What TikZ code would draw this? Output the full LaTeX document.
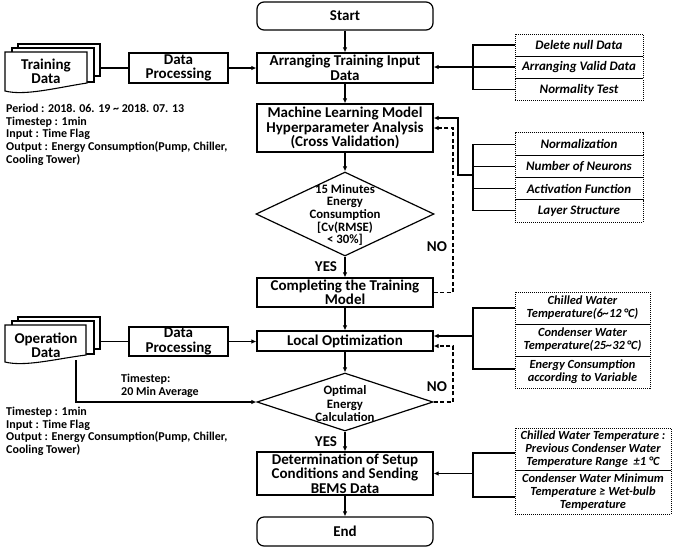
\documentclass[tikz,border=0pt]{standalone}
\usepackage{fontspec}
\setmainfont{Carlito}
\usetikzlibrary{shapes.geometric,arrows.meta}
\begin{document}
\begin{tikzpicture}[x=1pt,y=-1pt,
  every node/.style={inner sep=1pt},
  mainfont/.style={font=\fontsize{15}{14.5}\selectfont\bfseries},
  box/.style={draw,line width=1.2pt,minimum width=176pt,align=center,mainfont},
  term/.style={box,rounded corners=7pt},
  dia/.style={draw,line width=1.2pt,diamond,inner sep=0pt},
  opt/.style={draw,densely dotted,line width=1pt,align=center,
    font=\fontsize{13}{13.5}\selectfont\bfseries\itshape},
  optsm/.style={opt,font=\fontsize{12.4}{13}\selectfont\bfseries\itshape},
  note/.style={align=left,anchor=north west,font=\fontsize{12}{12.6}\selectfont\bfseries},
  conn/.style={line width=1.1pt},
  arr/.style={conn,-{Latex[length=5pt,width=4.5pt]}},
  darr/.style={conn,dash pattern=on 4pt off 2.5pt,-{Latex[length=5pt,width=4.5pt]}},
  page/.style={draw,line width=1.1pt,fill=white}]
\useasboundingbox (0,0) rectangle (680,547);

% main flow
\node[term,minimum height=28pt] (start) at (345,16) {Start};
\node[box,minimum height=30pt] (arrange) at (345,68) {Arranging Training Input\\Data};
\node[box,minimum height=48pt] (ml) at (345,128) {Machine Learning Model\\Hyperparameter Analysis\\(Cross Validation)};
\node[dia,minimum width=178pt,minimum height=84pt] (d1) at (345,214) {};
\node[align=center,font=\fontsize{12.8}{12.7}\selectfont\bfseries] (d1t) at (345,215) {15 Minutes\\Energy\\Consumption\\{}[Cv(RMSE)\\< 30\%]};
\node[box,minimum height=29pt] (comp) at (345,292.5) {Completing the Training\\Model};
\node[box,minimum height=20pt] (lo) at (345,341) {Local Optimization};
\node[dia,minimum width=176pt,minimum height=58pt] (d2) at (345,402) {};
\node[align=center,font=\fontsize{12.8}{13.5}\selectfont\bfseries] (d2t) at (345,404) {Optimal\\Energy\\Calculation};
\node[box,minimum height=43pt] (det) at (345,473.5) {Determination of Setup\\Conditions and Sending\\BEMS Data};
\node[term,minimum height=29pt] (end) at (345,531.5) {End};

\draw[arr] (start) -- (arrange);
\draw[arr] (arrange) -- (ml);
\draw[arr] (ml) -- (d1);
\draw[arr] (d1) -- (comp);
\draw[arr] (comp) -- (lo);
\draw[arr] (lo) -- (d2);
\draw[arr] (d2) -- (det);
\draw[arr] (det) -- (end);

\node[mainfont] (yes1) at (326,267) {YES};
\node[mainfont] (no1) at (437,247) {NO};
\node[mainfont] (yes2) at (326,442) {YES};
\node[mainfont] (no2) at (437,387) {NO};

% dashed feedback
\coordinate (f1a) at (453,292.5);
\coordinate (f1b) at (453,128);
\draw[darr] (comp.east) -- (f1a) -- (f1b) -- (ml.east);
\coordinate (f2a) at (453,402);
\coordinate (f2b) at (453,346);
\draw[darr] (d2.east) -- (f2a) -- (f2b) -- (f2b -| lo.east);

% training data document stack
\draw[page] (18,44) rectangle (100,76);
\draw[page] (12,48) rectangle (94,82);
\draw[page] (5,52) -- (87,52) -- (87,83) .. controls (55,88) and (25,96) .. (5,91) -- cycle;
\node[mainfont,align=center] (train) at (46,71.5) {Training\\Data};
\node[box,minimum width=99pt,minimum height=30pt] (dp1) at (178.5,68) {Data\\Processing};
\coordinate (t1) at (100,68);
\draw[conn] (t1) -- (dp1.west);
\draw[arr] (dp1.east) -- (arrange.west);
\node[note] (n1) at (5,103) {Period : 2018. 06. 19 \textasciitilde{} 2018. 07. 13\\Timestep : 1min\\Input : Time Flag\\Output : Energy Consumption(Pump, Chiller,\\Cooling Tower)};

% operation data document stack
\draw[page] (18,317) rectangle (100,349);
\draw[page] (12,321) rectangle (94,354);
\draw[page] (5,325) -- (86,325) -- (86,355) .. controls (55,359) and (25,367) .. (5,362) -- cycle;
\node[mainfont,align=center] (oper) at (46,345.5) {Operation\\Data};
\node[box,minimum width=99pt,minimum height=29pt] (dp2) at (178.5,341.5) {Data\\Processing};
\coordinate (t2) at (100,341.5);
\draw[conn] (t2) -- (dp2.west);
\draw[arr] (dp2.east) -- (dp2.east -| lo.west);
\coordinate (o1) at (76,360);
\coordinate (o2) at (76,402);
\draw[arr] (o1) -- (o2) -- (d2.west);
\node[anchor=west,align=left,font=\fontsize{12}{12.6}\selectfont\bfseries] (ts) at (120,386) {Timestep:\\20 Min Average};
\node[note] (n2) at (5,406) {Timestep : 1min\\Input : Time Flag\\Output : Energy Consumption(Pump, Chiller,\\Cooling Tower)};

% group 1
\node[opt,minimum width=128pt,minimum height=22pt] (g1a) at (579,45) {Delete null Data};
\node[opt,minimum width=128pt,minimum height=22pt] (g1b) at (579,67) {Arranging Valid Data};
\node[opt,minimum width=128pt,minimum height=22pt] (g1c) at (579,89.5) {Normality Test};
\coordinate (b1t) at (473,45);
\coordinate (b1m) at (473,67);
\coordinate (b1b) at (473,89.5);
\draw[conn] (g1a.west) -- (b1t) -- (b1b) -- (g1c.west);
\draw[conn] (b1m) -- (g1b.west);
\draw[arr] (b1m) -- (b1m -| arrange.east);

% group 2
\node[opt,minimum width=128pt,minimum height=22.25pt] (g2a) at (579,144.1) {Normalization};
\node[opt,minimum width=128pt,minimum height=22.25pt] (g2b) at (579,166.4) {Number of Neurons};
\node[opt,minimum width=128pt,minimum height=22.25pt] (g2c) at (579,188.6) {Activation Function};
\node[opt,minimum width=128pt,minimum height=22.25pt] (g2d) at (579,210.9) {Layer Structure};
\coordinate (b2t) at (473,144.1);
\coordinate (b2b) at (473,210.9);
\coordinate (b2m) at (473,175);
\coordinate (b2k) at (458,175);
\coordinate (b2u) at (458,118);
\draw[conn] (g2a.west) -- (b2t) -- (b2b) -- (g2d.west);
\draw[conn] (g2b.west) -- (g2b.west -| b2t);
\draw[conn] (g2c.west) -- (g2c.west -| b2t);
\draw[arr] (b2m) -- (b2k) -- (b2u) -- (b2u -| ml.east);

% group 3
\node[optsm,minimum width=135pt,minimum height=32pt] (g3a) at (582.5,308) {Chilled Water\\Temperature(6\textasciitilde 12\,°C)};
\node[optsm,minimum width=135pt,minimum height=32pt] (g3b) at (582.5,340) {Condenser Water\\Temperature(25\textasciitilde 32\,°C)};
\node[optsm,minimum width=135pt,minimum height=32pt] (g3c) at (582.5,372) {Energy Consumption\\according to Variable};
\coordinate (b3t) at (473,308);
\coordinate (b3b) at (473,369);
\coordinate (b3m) at (473,336);
\draw[conn] (b3t -| g3a.west) -- (b3t) -- (b3b) -- (b3b -| g3c.west);
\draw[arr] (b3m) -- (b3m -| lo.east);

% group 4
\node[optsm,minimum width=156pt,minimum height=42pt,inner sep=0pt] (g4a) at (593,449) {Chilled Water Temperature :\\Previous Condenser Water\\Temperature Range \ ±1 °C};
\node[optsm,minimum width=156pt,minimum height=44pt,inner sep=0pt] (g4b) at (593,492) {Condenser Water Minimum\\Temperature ≥ Wet-bulb\\Temperature};
\coordinate (b4t) at (473,453);
\coordinate (b4b) at (473,497);
\coordinate (b4m) at (473,473.5);
\draw[conn] (b4t -| g4a.west) -- (b4t) -- (b4b) -- (b4b -| g4b.west);
\draw[arr] (b4m) -- (det.east);
\end{tikzpicture}
\end{document}
